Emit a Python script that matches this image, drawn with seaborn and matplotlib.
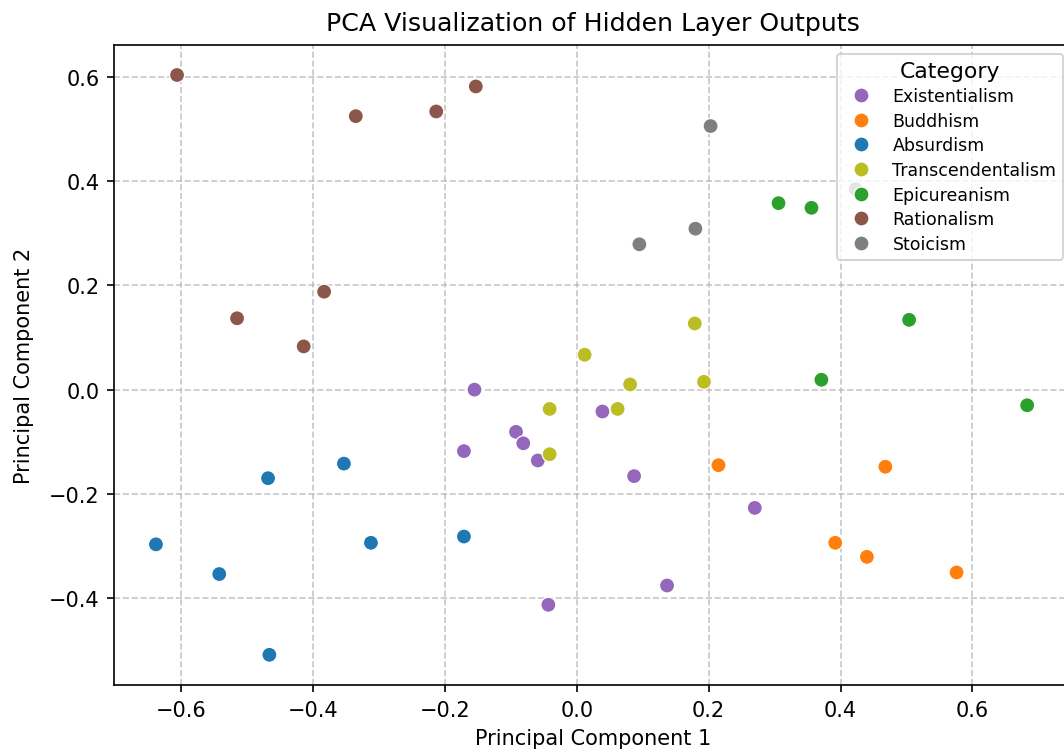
import matplotlib
matplotlib.use("Agg")
import matplotlib.pyplot as plt
import seaborn as sns
import pandas as pd

categories = ["Existentialism", "Buddhism", "Absurdism", "Transcendentalism",
              "Epicureanism", "Rationalism", "Stoicism"]

existentialism_x = [-0.155, -0.171, -0.092, -0.081, -0.059, 0.039, 0.087, 0.270, 0.137, -0.043]
existentialism_y = [0.000, -0.118, -0.081, -0.103, -0.136, -0.042, -0.166, -0.227, -0.376, -0.413]

buddhism_x = [0.215, 0.468, 0.392, 0.440, 0.576]
buddhism_y = [-0.145, -0.148, -0.294, -0.321, -0.351]

absurdism_x = [-0.638, -0.542, -0.468, -0.466, -0.353, -0.312, -0.171]
absurdism_y = [-0.297, -0.354, -0.170, -0.509, -0.142, -0.294, -0.282]

transcendentalism_x = [0.012, 0.081, 0.193, 0.179, -0.041, 0.062, -0.041]
transcendentalism_y = [0.067, 0.010, 0.015, 0.127, -0.037, -0.037, -0.124]

epicureanism_x = [0.306, 0.356, 0.504, 0.371, 0.683]
epicureanism_y = [0.358, 0.349, 0.134, 0.019, -0.030]

rationalism_x = [-0.606, -0.153, -0.335, -0.213, -0.383, -0.515, -0.414]
rationalism_y = [0.604, 0.582, 0.525, 0.534, 0.188, 0.137, 0.083]

stoicism_x = [0.203, 0.180, 0.095, 0.423]
stoicism_y = [0.506, 0.309, 0.279, 0.385]

colors = ["#9467bd", "#ff7f0e", "#1f77b4", "#bcbd22", "#2ca02c", "#8c564b", "#7f7f7f"]

series = [
    (existentialism_x, existentialism_y),
    (buddhism_x, buddhism_y),
    (absurdism_x, absurdism_y),
    (transcendentalism_x, transcendentalism_y),
    (epicureanism_x, epicureanism_y),
    (rationalism_x, rationalism_y),
    (stoicism_x, stoicism_y),
]

rows = []
for cat, (xs, ys) in zip(categories, series):
    for x, y in zip(xs, ys):
        rows.append({"PC1": x, "PC2": y, "Category": cat})
df = pd.DataFrame(rows)

plt.rcParams['font.family'] = ['DejaVu Sans']
DPI = 150
fig = plt.figure(figsize=(1064 / DPI, 753 / DPI), dpi=DPI)
ax = fig.add_axes([114/1064, 67/753, 958/1064, 640/753])

sns.scatterplot(data=df, x="PC1", y="PC2", hue="Category", hue_order=categories,
                palette=dict(zip(categories, colors)), s=52, edgecolor="white",
                linewidth=0.6, ax=ax)

ax.set_xlim(-0.7016, 0.751)
ax.set_ylim(-0.567, 0.6616)
ax.set_xticks([-0.6, -0.4, -0.2, 0.0, 0.2, 0.4, 0.6])
ax.set_yticks([-0.4, -0.2, 0.0, 0.2, 0.4, 0.6])
ax.grid(True, linestyle="--", alpha=0.7)
ax.set_axisbelow(True)
ax.set_xlabel("Principal Component 1")
ax.set_ylabel("Principal Component 2", labelpad=7)
ax.set_title("PCA Visualization of Hidden Layer Outputs", fontsize=12.1, pad=7)

leg = ax.legend(title="Category", loc="upper right", fontsize="small",
                title_fontsize=10.5, labelspacing=0.38)

fig.savefig("out.png", dpi=DPI)
